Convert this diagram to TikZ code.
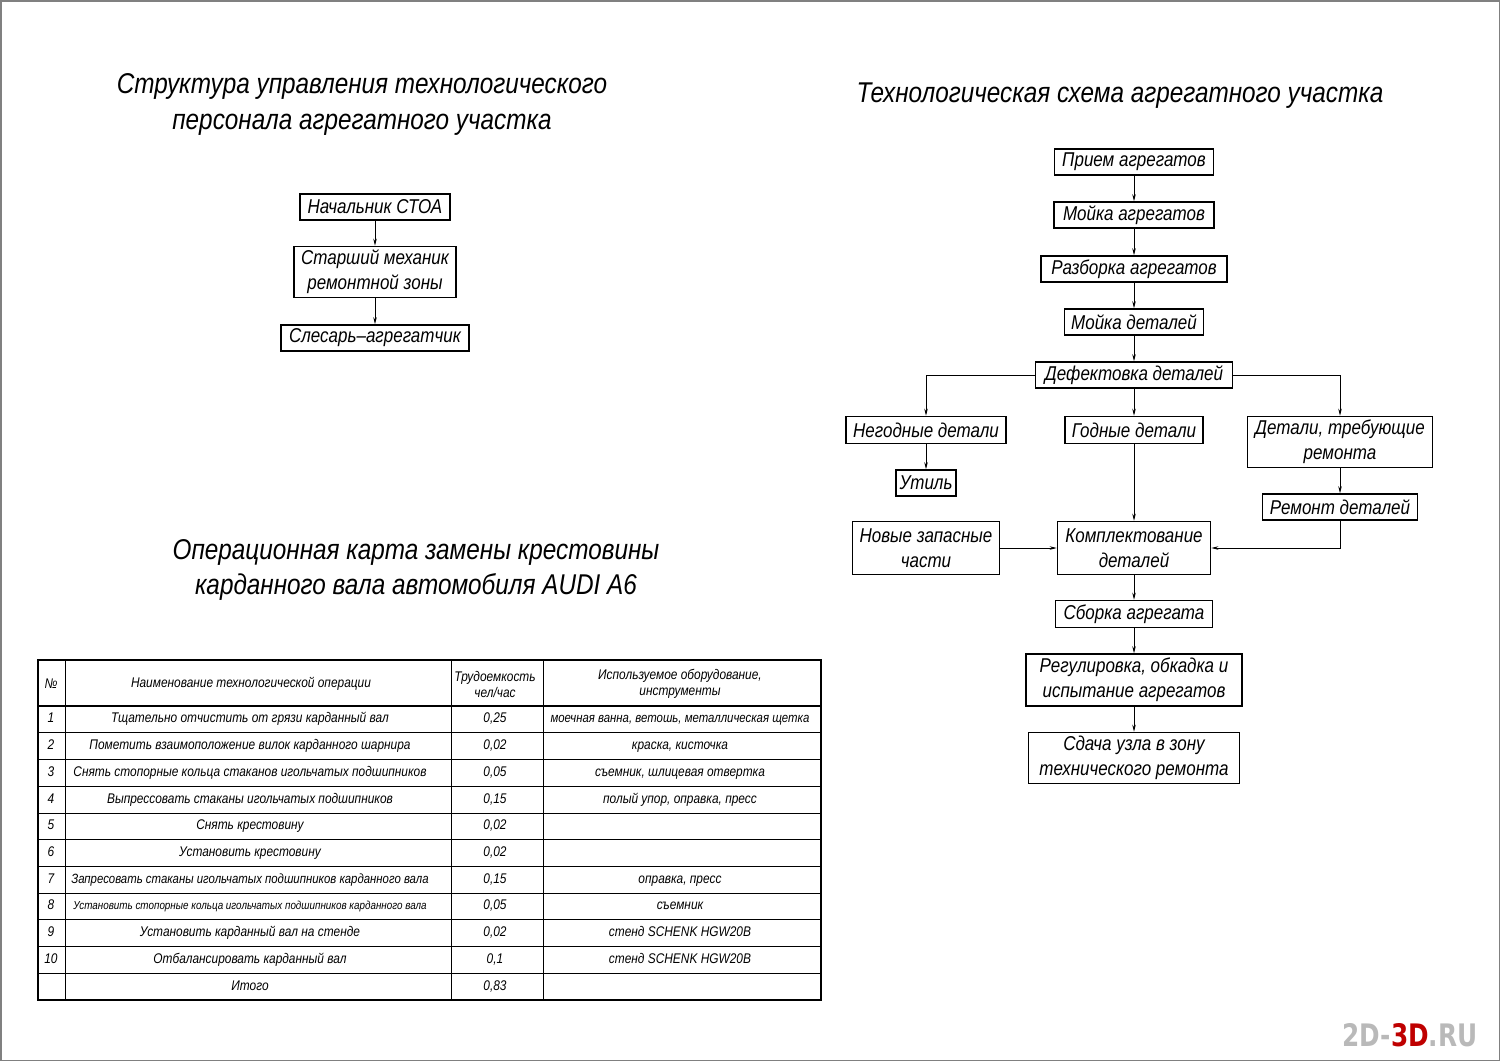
\documentclass[tikz,border=0pt]{standalone}
\usepackage{fontspec}
\setmainfont{Liberation Sans}[FakeStretch=0.85]
\newfontfamily\markfont{DejaVu Sans}[FakeStretch=0.8]
\usetikzlibrary{arrows.meta, positioning, calc}

\tikzset{
  blk/.style={draw, line width=1.6pt, inner sep=0pt, align=center,
    font=\fontsize{20}{25}\selectfont\itshape},
  lnk/.style={line width=0.8pt, -{Stealth[length=7pt, width=3.5pt]}},
  ttl/.style={align=center, font=\fontsize{28.6}{35.5}\selectfont\itshape},
  cell/.style={inner sep=0pt, align=center,
    font=\fontsize{14}{16}\selectfont\itshape},
  rowcell/.style={cell, text height=10pt, text depth=3pt},
  rule/.style={line width=0.8pt},
  heavy/.style={line width=1.8pt},
}

\begin{document}
\begin{tikzpicture}[x=1pt, y=-1pt]
\useasboundingbox (0,0) rectangle (1500,1061);
\draw[gray, line width=1.5pt] (0.75,0.75) rectangle (1499.25,1060.25);

% titles
\node[ttl] (title1) at (362,104.5) {Структура управления технологического\\персонала агрегатного участка};
\node[ttl] (title2) at (1120,96) {Технологическая схема агрегатного участка};
\node[ttl] (title3) at (416,570) {Операционная карта замены крестовины\\карданного вала автомобиля AUDI A6};

% personnel
\node[blk, minimum width=150pt, minimum height=26pt] (chief) at (375,207) {Начальник СТОА};
\node[blk, minimum width=162pt, minimum height=51pt] (senior) at (375,272) {Старший механик\\ремонтной зоны};
\node[blk, minimum width=188pt, minimum height=26pt] (fitter) at (375,338) {Слесарь--агрегатчик};
\draw[lnk] (chief) -- (senior);
\draw[lnk] (senior) -- (fitter);

% process scheme
\node[blk, minimum width=159pt, minimum height=26pt] (recv) at (1134,162) {Прием агрегатов};
\node[blk, minimum width=160pt, minimum height=26pt] (wash1) at (1134,215) {Мойка агрегатов};
\node[blk, minimum width=186pt, minimum height=26pt] (disasm) at (1134,269) {Разборка агрегатов};
\node[blk, minimum width=139pt, minimum height=26pt] (wash2) at (1134,322) {Мойка деталей};
\node[blk, minimum width=197pt, minimum height=26pt] (defect) at (1134,375) {Дефектовка деталей};
\node[blk, minimum width=160pt, minimum height=27pt] (bad) at (926,430) {Негодные детали};
\node[blk, minimum width=138pt, minimum height=27pt] (good) at (1134,430) {Годные детали};
\node[blk, minimum width=185pt, minimum height=51pt] (needrep) at (1340,442) {Детали, требующие\\ремонта};
\node[blk, minimum width=60pt, minimum height=26pt] (scrap) at (926,483) {Утиль};
\node[blk, minimum width=155pt, minimum height=26pt] (repair) at (1340,507) {Ремонт деталей};
\node[blk, minimum width=147pt, minimum height=53pt] (newparts) at (926,548) {Новые запасные\\части};
\node[blk, minimum width=153pt, minimum height=53pt] (kit) at (1134,548) {Комплектование\\деталей};
\node[blk, minimum width=157pt, minimum height=27pt] (assy) at (1134,614) {Сборка агрегата};
\node[blk, minimum width=216pt, minimum height=52pt] (adjust) at (1134,680) {Регулировка, обкадка и\\испытание агрегатов};
\node[blk, minimum width=211pt, minimum height=51pt] (handover) at (1134,758) {Сдача узла в зону\\технического ремонта};

\draw[lnk] (recv) -- (wash1);
\draw[lnk] (wash1) -- (disasm);
\draw[lnk] (disasm) -- (wash2);
\draw[lnk] (wash2) -- (defect);
\draw[lnk] (defect.west) -| (bad.north);
\draw[lnk] (defect) -- (good);
\draw[lnk] (defect.east) -| (needrep.north);
\draw[lnk] (bad) -- (scrap);
\draw[lnk] (needrep) -- (repair);
\draw[lnk] (good) -- (kit);
\draw[lnk] (newparts) -- (kit);
\draw[lnk] (repair.south) |- (kit.east);
\draw[lnk] (kit) -- (assy);
\draw[lnk] (assy) -- (adjust);
\draw[lnk] (adjust) -- (handover);

% operation card
\draw[heavy] (38,660) rectangle (821,1000);
\draw[heavy] (38,706) -- (821,706);
\foreach \x in {65,451,543}
  \draw[rule] (\x,660) -- (\x,1000);
\foreach \k in {1,...,10}
  \draw[rule] (38,{706+\k*26.73}) -- (821,{706+\k*26.73});

\node[cell] (hnum) at (51,684) {№};
\node[cell] (hname) at (251,684) {Наименование технологической операции};
\node[cell] (hlab) at (495,684) {Трудоемкость\\чел/час};
\node[cell] (hequip) at (680,684) {Используемое оборудование,\\инструменты};

\foreach [count=\r] \n/\op/\t/\eq in {
  1/{Тщательно отчистить от грязи карданный вал}/{0,25}/{{\fontsize{13.4}{15}\selectfont моечная ванна, ветошь, металлическая щетка}},
  2/{Пометить взаимоположение вилок карданного шарнира}/{0,02}/{краска, кисточка},
  3/{Снять стопорные кольца стаканов игольчатых подшипников}/{0,05}/{съемник, шлицевая отвертка},
  4/{Выпрессовать стаканы игольчатых подшипников}/{0,15}/{полый упор, оправка, пресс},
  5/{Снять крестовину}/{0,02}/{},
  6/{Установить крестовину}/{0,02}/{},
  7/{{\fontsize{13.4}{15}\selectfont Запресовать стаканы игольчатых подшипников карданного вала}}/{0,15}/{оправка, пресс},
  8/{{\fontsize{11.6}{14}\selectfont Установить стопорные кольца игольчатых подшипников карданного вала}}/{0,05}/{съемник},
  9/{Установить карданный вал на стенде}/{0,02}/{стенд SCHENK HGW20B},
  10/{Отбалансировать карданный вал}/{0,1}/{стенд SCHENK HGW20B},
  {}/{Итого}/{0,83}/{}}{
  \node[rowcell] (num\r) at (51,{706+(\r-0.5)*26.73}) {\n};
  \node[rowcell] (op\r) at (250,{706+(\r-0.5)*26.73}) {\op};
  \node[rowcell] (lab\r) at (495,{706+(\r-0.5)*26.73}) {\t};
  \node[rowcell] (eq\r) at (680,{706+(\r-0.5)*26.73}) {\eq};
}

% watermark
\node[font=\fontsize{31}{31}\selectfont\markfont\bfseries] (mark) at (1410,1035)
  {\textcolor{gray!55}{2D-}\textcolor{red!75!black}{3D}\textcolor{gray!55}{.RU}};
\end{tikzpicture}
\end{document}
